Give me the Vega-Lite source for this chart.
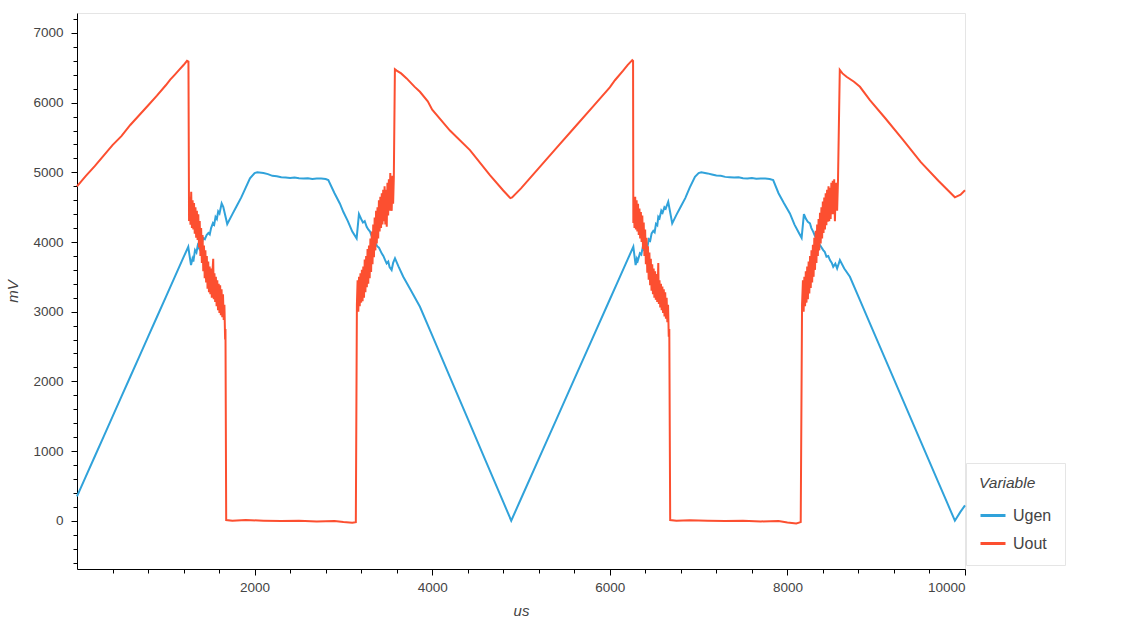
{
"$schema": "https://vega.github.io/schema/vega-lite/v6.json",
"width": 888, "height": 556,
"autosize": "none",
"padding": {"left": 77, "top": 13, "right": 160, "bottom": 56},
"config": {
 "view": {"stroke": "#e5e5e5", "strokeWidth": 1},
 "font": "Liberation Sans",
 "axis": {"domainColor": "#000", "tickColor": "#000", "labelColor": "#444", "labelFont": "Liberation Sans", "labelFontSize": 13.5, "titleFont": "Liberation Sans", "titleFontStyle": "italic", "titleFontWeight": "normal", "titleColor": "#444", "titleFontSize": 15, "grid": false}
},
"data": {"values": [
{"us":0,"mV":350,"Variable":"Ugen"},{"us":100,"mV":636,"Variable":"Ugen"},{"us":200,"mV":922,"Variable":"Ugen"},{"us":300,"mV":1208,"Variable":"Ugen"},{"us":400,"mV":1494,"Variable":"Ugen"},{"us":500,"mV":1780,"Variable":"Ugen"},{"us":600,"mV":2066,"Variable":"Ugen"},{"us":700,"mV":2352,"Variable":"Ugen"},{"us":800,"mV":2638,"Variable":"Ugen"},{"us":900,"mV":2924,"Variable":"Ugen"},{"us":1000,"mV":3210,"Variable":"Ugen"},{"us":1100,"mV":3496,"Variable":"Ugen"},{"us":1200,"mV":3782,"Variable":"Ugen"},{"us":1253,"mV":3932,"Variable":"Ugen"},{"us":1268,"mV":3800,"Variable":"Ugen"},{"us":1284,"mV":3668,"Variable":"Ugen"},{"us":1300,"mV":3760,"Variable":"Ugen"},{"us":1310,"mV":3720,"Variable":"Ugen"},{"us":1329,"mV":3884,"Variable":"Ugen"},{"us":1345,"mV":3850,"Variable":"Ugen"},{"us":1360,"mV":3950,"Variable":"Ugen"},{"us":1375,"mV":3910,"Variable":"Ugen"},{"us":1390,"mV":4010,"Variable":"Ugen"},{"us":1405,"mV":3980,"Variable":"Ugen"},{"us":1420,"mV":4060,"Variable":"Ugen"},{"us":1440,"mV":4040,"Variable":"Ugen"},{"us":1460,"mV":4100,"Variable":"Ugen"},{"us":1480,"mV":4130,"Variable":"Ugen"},{"us":1495,"mV":4110,"Variable":"Ugen"},{"us":1510,"mV":4200,"Variable":"Ugen"},{"us":1531,"mV":4272,"Variable":"Ugen"},{"us":1545,"mV":4250,"Variable":"Ugen"},{"us":1560,"mV":4360,"Variable":"Ugen"},{"us":1575,"mV":4330,"Variable":"Ugen"},{"us":1590,"mV":4440,"Variable":"Ugen"},{"us":1605,"mV":4410,"Variable":"Ugen"},{"us":1629,"mV":4555,"Variable":"Ugen"},{"us":1647,"mV":4506,"Variable":"Ugen"},{"us":1692,"mV":4258,"Variable":"Ugen"},{"us":1750,"mV":4400,"Variable":"Ugen"},{"us":1800,"mV":4520,"Variable":"Ugen"},{"us":1850,"mV":4640,"Variable":"Ugen"},{"us":1900,"mV":4780,"Variable":"Ugen"},{"us":1948,"mV":4913,"Variable":"Ugen"},{"us":2000,"mV":4990,"Variable":"Ugen"},{"us":2030,"mV":5000,"Variable":"Ugen"},{"us":2100,"mV":4990,"Variable":"Ugen"},{"us":2150,"mV":4975,"Variable":"Ugen"},{"us":2200,"mV":4950,"Variable":"Ugen"},{"us":2250,"mV":4945,"Variable":"Ugen"},{"us":2300,"mV":4930,"Variable":"Ugen"},{"us":2350,"mV":4925,"Variable":"Ugen"},{"us":2400,"mV":4920,"Variable":"Ugen"},{"us":2450,"mV":4925,"Variable":"Ugen"},{"us":2500,"mV":4915,"Variable":"Ugen"},{"us":2550,"mV":4910,"Variable":"Ugen"},{"us":2600,"mV":4915,"Variable":"Ugen"},{"us":2650,"mV":4905,"Variable":"Ugen"},{"us":2700,"mV":4910,"Variable":"Ugen"},{"us":2750,"mV":4912,"Variable":"Ugen"},{"us":2800,"mV":4905,"Variable":"Ugen"},{"us":2830,"mV":4890,"Variable":"Ugen"},{"us":2900,"mV":4700,"Variable":"Ugen"},{"us":2961,"mV":4550,"Variable":"Ugen"},{"us":3000,"mV":4430,"Variable":"Ugen"},{"us":3050,"mV":4300,"Variable":"Ugen"},{"us":3100,"mV":4150,"Variable":"Ugen"},{"us":3149,"mV":4052,"Variable":"Ugen"},{"us":3175,"mV":4401,"Variable":"Ugen"},{"us":3200,"mV":4330,"Variable":"Ugen"},{"us":3220,"mV":4280,"Variable":"Ugen"},{"us":3240,"mV":4300,"Variable":"Ugen"},{"us":3262,"mV":4219,"Variable":"Ugen"},{"us":3280,"mV":4180,"Variable":"Ugen"},{"us":3300,"mV":4150,"Variable":"Ugen"},{"us":3320,"mV":4080,"Variable":"Ugen"},{"us":3336,"mV":4028,"Variable":"Ugen"},{"us":3360,"mV":3990,"Variable":"Ugen"},{"us":3380,"mV":3940,"Variable":"Ugen"},{"us":3400,"mV":3920,"Variable":"Ugen"},{"us":3431,"mV":3837,"Variable":"Ugen"},{"us":3450,"mV":3800,"Variable":"Ugen"},{"us":3470,"mV":3740,"Variable":"Ugen"},{"us":3487,"mV":3694,"Variable":"Ugen"},{"us":3505,"mV":3720,"Variable":"Ugen"},{"us":3520,"mV":3640,"Variable":"Ugen"},{"us":3543,"mV":3598,"Variable":"Ugen"},{"us":3560,"mV":3700,"Variable":"Ugen"},{"us":3581,"mV":3765,"Variable":"Ugen"},{"us":3620,"mV":3650,"Variable":"Ugen"},{"us":3674,"mV":3501,"Variable":"Ugen"},{"us":3750,"mV":3330,"Variable":"Ugen"},{"us":3862,"mV":3071,"Variable":"Ugen"},{"us":4000,"mV":2659,"Variable":"Ugen"},{"us":4200,"mV":2061,"Variable":"Ugen"},{"us":4400,"mV":1465,"Variable":"Ugen"},{"us":4600,"mV":867,"Variable":"Ugen"},{"us":4700,"mV":568,"Variable":"Ugen"},{"us":4800,"mV":270,"Variable":"Ugen"},{"us":4890,"mV":0,"Variable":"Ugen"},{"us":5000,"mV":315,"Variable":"Ugen"},{"us":5200,"mV":887,"Variable":"Ugen"},{"us":5400,"mV":1459,"Variable":"Ugen"},{"us":5600,"mV":2031,"Variable":"Ugen"},{"us":5800,"mV":2603,"Variable":"Ugen"},{"us":6000,"mV":3175,"Variable":"Ugen"},{"us":6100,"mV":3461,"Variable":"Ugen"},{"us":6200,"mV":3747,"Variable":"Ugen"},{"us":6265,"mV":3932,"Variable":"Ugen"},{"us":6291,"mV":3668,"Variable":"Ugen"},{"us":6305,"mV":3760,"Variable":"Ugen"},{"us":6315,"mV":3730,"Variable":"Ugen"},{"us":6339,"mV":3837,"Variable":"Ugen"},{"us":6355,"mV":3820,"Variable":"Ugen"},{"us":6370,"mV":3920,"Variable":"Ugen"},{"us":6385,"mV":3890,"Variable":"Ugen"},{"us":6410,"mV":3960,"Variable":"Ugen"},{"us":6425,"mV":3940,"Variable":"Ugen"},{"us":6440,"mV":4040,"Variable":"Ugen"},{"us":6455,"mV":4020,"Variable":"Ugen"},{"us":6471,"mV":4124,"Variable":"Ugen"},{"us":6490,"mV":4160,"Variable":"Ugen"},{"us":6505,"mV":4140,"Variable":"Ugen"},{"us":6520,"mV":4260,"Variable":"Ugen"},{"us":6535,"mV":4240,"Variable":"Ugen"},{"us":6546,"mV":4362,"Variable":"Ugen"},{"us":6560,"mV":4340,"Variable":"Ugen"},{"us":6580,"mV":4450,"Variable":"Ugen"},{"us":6595,"mV":4420,"Variable":"Ugen"},{"us":6615,"mV":4500,"Variable":"Ugen"},{"us":6630,"mV":4480,"Variable":"Ugen"},{"us":6658,"mV":4578,"Variable":"Ugen"},{"us":6703,"mV":4268,"Variable":"Ugen"},{"us":6750,"mV":4390,"Variable":"Ugen"},{"us":6800,"mV":4510,"Variable":"Ugen"},{"us":6850,"mV":4630,"Variable":"Ugen"},{"us":6900,"mV":4780,"Variable":"Ugen"},{"us":6959,"mV":4937,"Variable":"Ugen"},{"us":7000,"mV":4990,"Variable":"Ugen"},{"us":7030,"mV":5000,"Variable":"Ugen"},{"us":7100,"mV":4985,"Variable":"Ugen"},{"us":7150,"mV":4970,"Variable":"Ugen"},{"us":7200,"mV":4955,"Variable":"Ugen"},{"us":7250,"mV":4950,"Variable":"Ugen"},{"us":7300,"mV":4935,"Variable":"Ugen"},{"us":7350,"mV":4930,"Variable":"Ugen"},{"us":7400,"mV":4925,"Variable":"Ugen"},{"us":7450,"mV":4928,"Variable":"Ugen"},{"us":7500,"mV":4915,"Variable":"Ugen"},{"us":7550,"mV":4912,"Variable":"Ugen"},{"us":7600,"mV":4918,"Variable":"Ugen"},{"us":7650,"mV":4908,"Variable":"Ugen"},{"us":7700,"mV":4912,"Variable":"Ugen"},{"us":7750,"mV":4910,"Variable":"Ugen"},{"us":7800,"mV":4905,"Variable":"Ugen"},{"us":7840,"mV":4890,"Variable":"Ugen"},{"us":7900,"mV":4700,"Variable":"Ugen"},{"us":7960,"mV":4560,"Variable":"Ugen"},{"us":8028,"mV":4411,"Variable":"Ugen"},{"us":8080,"mV":4250,"Variable":"Ugen"},{"us":8130,"mV":4130,"Variable":"Ugen"},{"us":8160,"mV":4060,"Variable":"Ugen"},{"us":8186,"mV":4401,"Variable":"Ugen"},{"us":8210,"mV":4330,"Variable":"Ugen"},{"us":8230,"mV":4290,"Variable":"Ugen"},{"us":8254,"mV":4268,"Variable":"Ugen"},{"us":8270,"mV":4200,"Variable":"Ugen"},{"us":8290,"mV":4150,"Variable":"Ugen"},{"us":8310,"mV":4090,"Variable":"Ugen"},{"us":8329,"mV":4028,"Variable":"Ugen"},{"us":8350,"mV":3990,"Variable":"Ugen"},{"us":8370,"mV":3950,"Variable":"Ugen"},{"us":8403,"mV":3885,"Variable":"Ugen"},{"us":8420,"mV":3860,"Variable":"Ugen"},{"us":8440,"mV":3790,"Variable":"Ugen"},{"us":8460,"mV":3800,"Variable":"Ugen"},{"us":8479,"mV":3741,"Variable":"Ugen"},{"us":8500,"mV":3700,"Variable":"Ugen"},{"us":8516,"mV":3645,"Variable":"Ugen"},{"us":8540,"mV":3690,"Variable":"Ugen"},{"us":8560,"mV":3620,"Variable":"Ugen"},{"us":8591,"mV":3741,"Variable":"Ugen"},{"us":8640,"mV":3620,"Variable":"Ugen"},{"us":8704,"mV":3501,"Variable":"Ugen"},{"us":8800,"mV":3215,"Variable":"Ugen"},{"us":8929,"mV":2833,"Variable":"Ugen"},{"us":9100,"mV":2327,"Variable":"Ugen"},{"us":9300,"mV":1735,"Variable":"Ugen"},{"us":9500,"mV":1143,"Variable":"Ugen"},{"us":9700,"mV":551,"Variable":"Ugen"},{"us":9800,"mV":255,"Variable":"Ugen"},{"us":9886,"mV":0,"Variable":"Ugen"},{"us":9950,"mV":130,"Variable":"Ugen"},{"us":10000,"mV":220,"Variable":"Ugen"},
{"us":0,"mV":4800,"Variable":"Uout"},{"us":100,"mV":4950,"Variable":"Uout"},{"us":200,"mV":5090,"Variable":"Uout"},{"us":300,"mV":5240,"Variable":"Uout"},{"us":400,"mV":5390,"Variable":"Uout"},{"us":500,"mV":5520,"Variable":"Uout"},{"us":600,"mV":5680,"Variable":"Uout"},{"us":700,"mV":5820,"Variable":"Uout"},{"us":800,"mV":5960,"Variable":"Uout"},{"us":900,"mV":6100,"Variable":"Uout"},{"us":1000,"mV":6250,"Variable":"Uout"},{"us":1050,"mV":6330,"Variable":"Uout"},{"us":1100,"mV":6400,"Variable":"Uout"},{"us":1150,"mV":6470,"Variable":"Uout"},{"us":1200,"mV":6540,"Variable":"Uout"},{"us":1239,"mV":6600,"Variable":"Uout"},{"us":1255,"mV":6590,"Variable":"Uout"},
{"us":1262,"mV":4300,"Variable":"Uout"},{"us":1270,"mV":4650,"Variable":"Uout"},{"us":1278,"mV":4250,"Variable":"Uout"},{"us":1286,"mV":4720,"Variable":"Uout"},{"us":1294,"mV":4200,"Variable":"Uout"},{"us":1302,"mV":4600,"Variable":"Uout"},{"us":1310,"mV":4180,"Variable":"Uout"},{"us":1318,"mV":4560,"Variable":"Uout"},{"us":1326,"mV":4120,"Variable":"Uout"},{"us":1334,"mV":4500,"Variable":"Uout"},{"us":1342,"mV":4060,"Variable":"Uout"},{"us":1350,"mV":4450,"Variable":"Uout"},{"us":1358,"mV":4030,"Variable":"Uout"},{"us":1366,"mV":4400,"Variable":"Uout"},{"us":1374,"mV":3920,"Variable":"Uout"},{"us":1382,"mV":4300,"Variable":"Uout"},{"us":1390,"mV":3800,"Variable":"Uout"},{"us":1398,"mV":4200,"Variable":"Uout"},{"us":1406,"mV":3700,"Variable":"Uout"},{"us":1414,"mV":4100,"Variable":"Uout"},{"us":1422,"mV":3580,"Variable":"Uout"},{"us":1430,"mV":3950,"Variable":"Uout"},{"us":1438,"mV":3480,"Variable":"Uout"},{"us":1446,"mV":3880,"Variable":"Uout"},{"us":1454,"mV":3420,"Variable":"Uout"},{"us":1462,"mV":3800,"Variable":"Uout"},{"us":1470,"mV":3330,"Variable":"Uout"},{"us":1478,"mV":3720,"Variable":"Uout"},{"us":1486,"mV":3280,"Variable":"Uout"},{"us":1494,"mV":3650,"Variable":"Uout"},{"us":1502,"mV":3250,"Variable":"Uout"},{"us":1510,"mV":3620,"Variable":"Uout"},{"us":1518,"mV":3200,"Variable":"Uout"},{"us":1526,"mV":3580,"Variable":"Uout"},{"us":1534,"mV":3760,"Variable":"Uout"},{"us":1540,"mV":3180,"Variable":"Uout"},{"us":1548,"mV":3550,"Variable":"Uout"},{"us":1556,"mV":3140,"Variable":"Uout"},{"us":1564,"mV":3500,"Variable":"Uout"},{"us":1572,"mV":3080,"Variable":"Uout"},{"us":1580,"mV":3450,"Variable":"Uout"},{"us":1588,"mV":3020,"Variable":"Uout"},{"us":1596,"mV":3400,"Variable":"Uout"},{"us":1604,"mV":2980,"Variable":"Uout"},{"us":1612,"mV":3380,"Variable":"Uout"},{"us":1620,"mV":2950,"Variable":"Uout"},{"us":1628,"mV":3320,"Variable":"Uout"},{"us":1636,"mV":2920,"Variable":"Uout"},{"us":1644,"mV":3250,"Variable":"Uout"},{"us":1652,"mV":2880,"Variable":"Uout"},{"us":1660,"mV":3100,"Variable":"Uout"},{"us":1668,"mV":2600,"Variable":"Uout"},{"us":1672,"mV":2750,"Variable":"Uout"},{"us":1680,"mV":10,"Variable":"Uout"},
{"us":1750,"mV":0,"Variable":"Uout"},{"us":1900,"mV":10,"Variable":"Uout"},{"us":2100,"mV":0,"Variable":"Uout"},{"us":2300,"mV":-5,"Variable":"Uout"},{"us":2500,"mV":0,"Variable":"Uout"},{"us":2700,"mV":-10,"Variable":"Uout"},{"us":2900,"mV":-5,"Variable":"Uout"},{"us":3000,"mV":-20,"Variable":"Uout"},{"us":3100,"mV":-30,"Variable":"Uout"},{"us":3140,"mV":-20,"Variable":"Uout"},
{"us":3152,"mV":3100,"Variable":"Uout"},{"us":3160,"mV":3450,"Variable":"Uout"},{"us":3168,"mV":3000,"Variable":"Uout"},{"us":3176,"mV":3500,"Variable":"Uout"},{"us":3184,"mV":3080,"Variable":"Uout"},{"us":3192,"mV":3550,"Variable":"Uout"},{"us":3200,"mV":3130,"Variable":"Uout"},{"us":3208,"mV":3600,"Variable":"Uout"},{"us":3216,"mV":3150,"Variable":"Uout"},{"us":3224,"mV":3650,"Variable":"Uout"},{"us":3232,"mV":3200,"Variable":"Uout"},{"us":3240,"mV":3750,"Variable":"Uout"},{"us":3248,"mV":3280,"Variable":"Uout"},{"us":3256,"mV":3800,"Variable":"Uout"},{"us":3264,"mV":3350,"Variable":"Uout"},{"us":3272,"mV":3900,"Variable":"Uout"},{"us":3280,"mV":3400,"Variable":"Uout"},{"us":3288,"mV":3950,"Variable":"Uout"},{"us":3296,"mV":3480,"Variable":"Uout"},{"us":3304,"mV":4050,"Variable":"Uout"},{"us":3312,"mV":3570,"Variable":"Uout"},{"us":3320,"mV":4150,"Variable":"Uout"},{"us":3328,"mV":3680,"Variable":"Uout"},{"us":3336,"mV":4250,"Variable":"Uout"},{"us":3344,"mV":3780,"Variable":"Uout"},{"us":3352,"mV":4350,"Variable":"Uout"},{"us":3360,"mV":3880,"Variable":"Uout"},{"us":3368,"mV":4450,"Variable":"Uout"},{"us":3376,"mV":3980,"Variable":"Uout"},{"us":3384,"mV":4500,"Variable":"Uout"},{"us":3392,"mV":4050,"Variable":"Uout"},{"us":3400,"mV":4600,"Variable":"Uout"},{"us":3408,"mV":4150,"Variable":"Uout"},{"us":3416,"mV":4650,"Variable":"Uout"},{"us":3424,"mV":4200,"Variable":"Uout"},{"us":3432,"mV":4700,"Variable":"Uout"},{"us":3440,"mV":4250,"Variable":"Uout"},{"us":3448,"mV":4750,"Variable":"Uout"},{"us":3456,"mV":4300,"Variable":"Uout"},{"us":3464,"mV":4800,"Variable":"Uout"},{"us":3472,"mV":4250,"Variable":"Uout"},{"us":3480,"mV":4750,"Variable":"Uout"},{"us":3488,"mV":4220,"Variable":"Uout"},{"us":3496,"mV":4850,"Variable":"Uout"},{"us":3504,"mV":4380,"Variable":"Uout"},{"us":3512,"mV":4900,"Variable":"Uout"},{"us":3520,"mV":4450,"Variable":"Uout"},{"us":3528,"mV":4990,"Variable":"Uout"},{"us":3536,"mV":4480,"Variable":"Uout"},{"us":3544,"mV":4450,"Variable":"Uout"},{"us":3552,"mV":4950,"Variable":"Uout"},{"us":3560,"mV":4550,"Variable":"Uout"},{"us":3568,"mV":4940,"Variable":"Uout"},
{"us":3580,"mV":6480,"Variable":"Uout"},{"us":3600,"mV":6460,"Variable":"Uout"},{"us":3650,"mV":6420,"Variable":"Uout"},{"us":3712,"mV":6348,"Variable":"Uout"},{"us":3800,"mV":6230,"Variable":"Uout"},{"us":3862,"mV":6156,"Variable":"Uout"},{"us":3950,"mV":6020,"Variable":"Uout"},{"us":4000,"mV":5900,"Variable":"Uout"},{"us":4200,"mV":5600,"Variable":"Uout"},{"us":4425,"mV":5320,"Variable":"Uout"},{"us":4650,"mV":4960,"Variable":"Uout"},{"us":4800,"mV":4740,"Variable":"Uout"},{"us":4880,"mV":4630,"Variable":"Uout"},{"us":4900,"mV":4640,"Variable":"Uout"},{"us":5000,"mV":4770,"Variable":"Uout"},{"us":5200,"mV":5060,"Variable":"Uout"},{"us":5400,"mV":5350,"Variable":"Uout"},{"us":5600,"mV":5640,"Variable":"Uout"},{"us":5800,"mV":5930,"Variable":"Uout"},{"us":6000,"mV":6220,"Variable":"Uout"},{"us":6058,"mV":6322,"Variable":"Uout"},{"us":6150,"mV":6460,"Variable":"Uout"},{"us":6200,"mV":6540,"Variable":"Uout"},{"us":6253,"mV":6611,"Variable":"Uout"},{"us":6262,"mV":6600,"Variable":"Uout"},
{"us":6265,"mV":4272,"Variable":"Uout"},{"us":6270,"mV":4600,"Variable":"Uout"},{"us":6278,"mV":4200,"Variable":"Uout"},{"us":6286,"mV":4650,"Variable":"Uout"},{"us":6294,"mV":4180,"Variable":"Uout"},{"us":6302,"mV":4600,"Variable":"Uout"},{"us":6310,"mV":4150,"Variable":"Uout"},{"us":6318,"mV":4550,"Variable":"Uout"},{"us":6326,"mV":4100,"Variable":"Uout"},{"us":6334,"mV":4480,"Variable":"Uout"},{"us":6342,"mV":4050,"Variable":"Uout"},{"us":6350,"mV":4430,"Variable":"Uout"},{"us":6358,"mV":4000,"Variable":"Uout"},{"us":6366,"mV":4380,"Variable":"Uout"},{"us":6374,"mV":3900,"Variable":"Uout"},{"us":6382,"mV":4280,"Variable":"Uout"},{"us":6390,"mV":3800,"Variable":"Uout"},{"us":6398,"mV":4180,"Variable":"Uout"},{"us":6406,"mV":3680,"Variable":"Uout"},{"us":6414,"mV":4060,"Variable":"Uout"},{"us":6422,"mV":3560,"Variable":"Uout"},{"us":6430,"mV":3940,"Variable":"Uout"},{"us":6438,"mV":3460,"Variable":"Uout"},{"us":6446,"mV":3850,"Variable":"Uout"},{"us":6454,"mV":3380,"Variable":"Uout"},{"us":6462,"mV":3760,"Variable":"Uout"},{"us":6470,"mV":3300,"Variable":"Uout"},{"us":6478,"mV":3680,"Variable":"Uout"},{"us":6486,"mV":3250,"Variable":"Uout"},{"us":6494,"mV":3620,"Variable":"Uout"},{"us":6502,"mV":3200,"Variable":"Uout"},{"us":6510,"mV":3580,"Variable":"Uout"},{"us":6518,"mV":3170,"Variable":"Uout"},{"us":6526,"mV":3540,"Variable":"Uout"},{"us":6534,"mV":3140,"Variable":"Uout"},{"us":6542,"mV":3480,"Variable":"Uout"},{"us":6546,"mV":3700,"Variable":"Uout"},{"us":6552,"mV":3110,"Variable":"Uout"},{"us":6560,"mV":3450,"Variable":"Uout"},{"us":6568,"mV":3060,"Variable":"Uout"},{"us":6576,"mV":3400,"Variable":"Uout"},{"us":6584,"mV":3020,"Variable":"Uout"},{"us":6592,"mV":3360,"Variable":"Uout"},{"us":6600,"mV":2980,"Variable":"Uout"},{"us":6608,"mV":3320,"Variable":"Uout"},{"us":6616,"mV":2930,"Variable":"Uout"},{"us":6624,"mV":3280,"Variable":"Uout"},{"us":6632,"mV":2900,"Variable":"Uout"},{"us":6640,"mV":3200,"Variable":"Uout"},{"us":6648,"mV":2850,"Variable":"Uout"},{"us":6656,"mV":3100,"Variable":"Uout"},{"us":6664,"mV":2640,"Variable":"Uout"},{"us":6670,"mV":2750,"Variable":"Uout"},{"us":6680,"mV":10,"Variable":"Uout"},
{"us":6750,"mV":0,"Variable":"Uout"},{"us":6900,"mV":5,"Variable":"Uout"},{"us":7100,"mV":0,"Variable":"Uout"},{"us":7300,"mV":-5,"Variable":"Uout"},{"us":7500,"mV":0,"Variable":"Uout"},{"us":7700,"mV":-10,"Variable":"Uout"},{"us":7900,"mV":-5,"Variable":"Uout"},{"us":8000,"mV":-25,"Variable":"Uout"},{"us":8100,"mV":-40,"Variable":"Uout"},{"us":8150,"mV":-20,"Variable":"Uout"},
{"us":8165,"mV":3100,"Variable":"Uout"},{"us":8175,"mV":3450,"Variable":"Uout"},{"us":8183,"mV":3000,"Variable":"Uout"},{"us":8191,"mV":3500,"Variable":"Uout"},{"us":8199,"mV":3080,"Variable":"Uout"},{"us":8207,"mV":3580,"Variable":"Uout"},{"us":8215,"mV":3130,"Variable":"Uout"},{"us":8223,"mV":3650,"Variable":"Uout"},{"us":8231,"mV":3180,"Variable":"Uout"},{"us":8239,"mV":3720,"Variable":"Uout"},{"us":8247,"mV":3260,"Variable":"Uout"},{"us":8255,"mV":3800,"Variable":"Uout"},{"us":8263,"mV":3340,"Variable":"Uout"},{"us":8271,"mV":3880,"Variable":"Uout"},{"us":8279,"mV":3420,"Variable":"Uout"},{"us":8287,"mV":3960,"Variable":"Uout"},{"us":8295,"mV":3500,"Variable":"Uout"},{"us":8303,"mV":4060,"Variable":"Uout"},{"us":8311,"mV":3600,"Variable":"Uout"},{"us":8319,"mV":4160,"Variable":"Uout"},{"us":8327,"mV":3700,"Variable":"Uout"},{"us":8335,"mV":4250,"Variable":"Uout"},{"us":8343,"mV":3800,"Variable":"Uout"},{"us":8351,"mV":4330,"Variable":"Uout"},{"us":8359,"mV":3880,"Variable":"Uout"},{"us":8367,"mV":4420,"Variable":"Uout"},{"us":8375,"mV":3980,"Variable":"Uout"},{"us":8383,"mV":4500,"Variable":"Uout"},{"us":8391,"mV":4050,"Variable":"Uout"},{"us":8399,"mV":4580,"Variable":"Uout"},{"us":8407,"mV":4130,"Variable":"Uout"},{"us":8415,"mV":4640,"Variable":"Uout"},{"us":8423,"mV":4180,"Variable":"Uout"},{"us":8431,"mV":4700,"Variable":"Uout"},{"us":8439,"mV":4240,"Variable":"Uout"},{"us":8447,"mV":4750,"Variable":"Uout"},{"us":8455,"mV":4290,"Variable":"Uout"},{"us":8463,"mV":4800,"Variable":"Uout"},{"us":8471,"mV":4300,"Variable":"Uout"},{"us":8479,"mV":4780,"Variable":"Uout"},{"us":8487,"mV":4330,"Variable":"Uout"},{"us":8495,"mV":4850,"Variable":"Uout"},{"us":8503,"mV":4400,"Variable":"Uout"},{"us":8511,"mV":4880,"Variable":"Uout"},{"us":8519,"mV":4400,"Variable":"Uout"},{"us":8527,"mV":4900,"Variable":"Uout"},{"us":8535,"mV":4300,"Variable":"Uout"},{"us":8543,"mV":4700,"Variable":"Uout"},{"us":8551,"mV":4850,"Variable":"Uout"},{"us":8560,"mV":4450,"Variable":"Uout"},{"us":8570,"mV":4900,"Variable":"Uout"},
{"us":8590,"mV":6470,"Variable":"Uout"},{"us":8620,"mV":6420,"Variable":"Uout"},{"us":8666,"mV":6371,"Variable":"Uout"},{"us":8750,"mV":6300,"Variable":"Uout"},{"us":8817,"mV":6228,"Variable":"Uout"},{"us":8929,"mV":6037,"Variable":"Uout"},{"us":9100,"mV":5780,"Variable":"Uout"},{"us":9300,"mV":5470,"Variable":"Uout"},{"us":9500,"mV":5150,"Variable":"Uout"},{"us":9700,"mV":4880,"Variable":"Uout"},{"us":9886,"mV":4642,"Variable":"Uout"},{"us":9950,"mV":4680,"Variable":"Uout"},{"us":10000,"mV":4742,"Variable":"Uout"}
]},
"layer": [
 {
  "mark": {"type": "line", "strokeWidth": 2, "interpolate": "linear"},
  "encoding": {
   "x": {"field": "us", "type": "quantitative", "scale": {"domain": [0, 10000], "nice": false, "zero": false}, "axis": {"orient": "bottom", "values": [2000,4000,6000,8000,10000], "format": "d", "tickSize": 6, "labelPadding": 5, "title": "us", "titlePadding": 10}},
   "y": {"field": "mV", "type": "quantitative", "scale": {"domain": [-693, 7287], "nice": false, "zero": false}, "axis": {"orient": "left", "values": [0,1000,2000,3000,4000,5000,6000,7000], "format": "d", "tickSize": 6, "labelPadding": 8, "title": "mV", "titlePadding": 12}},
   "color": {"field": "Variable", "type": "nominal", "scale": {"domain": ["Ugen", "Uout"], "range": ["#30a2da", "#fc4f30"]},
    "legend": {"orient": "none", "legendX": 889, "legendY": 450, "title": "Variable", "titleFontStyle": "italic", "titleFontWeight": "normal", "titleFontSize": 15.5, "titleColor": "#444", "labelFontSize": 16, "labelColor": "#444", "symbolType": "stroke", "symbolSize": 625, "symbolStrokeWidth": 3, "padding": 13, "strokeColor": "#e5e5e5", "fillColor": "white", "rowPadding": 6, "titlePadding": 10, "labelOffset": 6}}
  }
 },
 {
  "mark": {"type": "point", "opacity": 0},
  "encoding": {
   "x": {"field": "us", "type": "quantitative", "axis": {"orient": "bottom", "values": [400,800,1200,1600,2400,2800,3200,3600,4400,4800,5200,5600,6400,6800,7200,7600,8400,8800,9200,9600], "labels": false, "domain": false, "tickSize": 4, "title": null}},
   "y": {"field": "mV", "type": "quantitative", "axis": {"orient": "left", "values": [-600,-400,-200,200,400,600,800,1200,1400,1600,1800,2200,2400,2600,2800,3200,3400,3600,3800,4200,4400,4600,4800,5200,5400,5600,5800,6200,6400,6600,6800,7200], "labels": false, "domain": false, "tickSize": 4, "title": null}}
  }
 }
],
"resolve": {"axis": {"x": "independent", "y": "independent"}}
}
